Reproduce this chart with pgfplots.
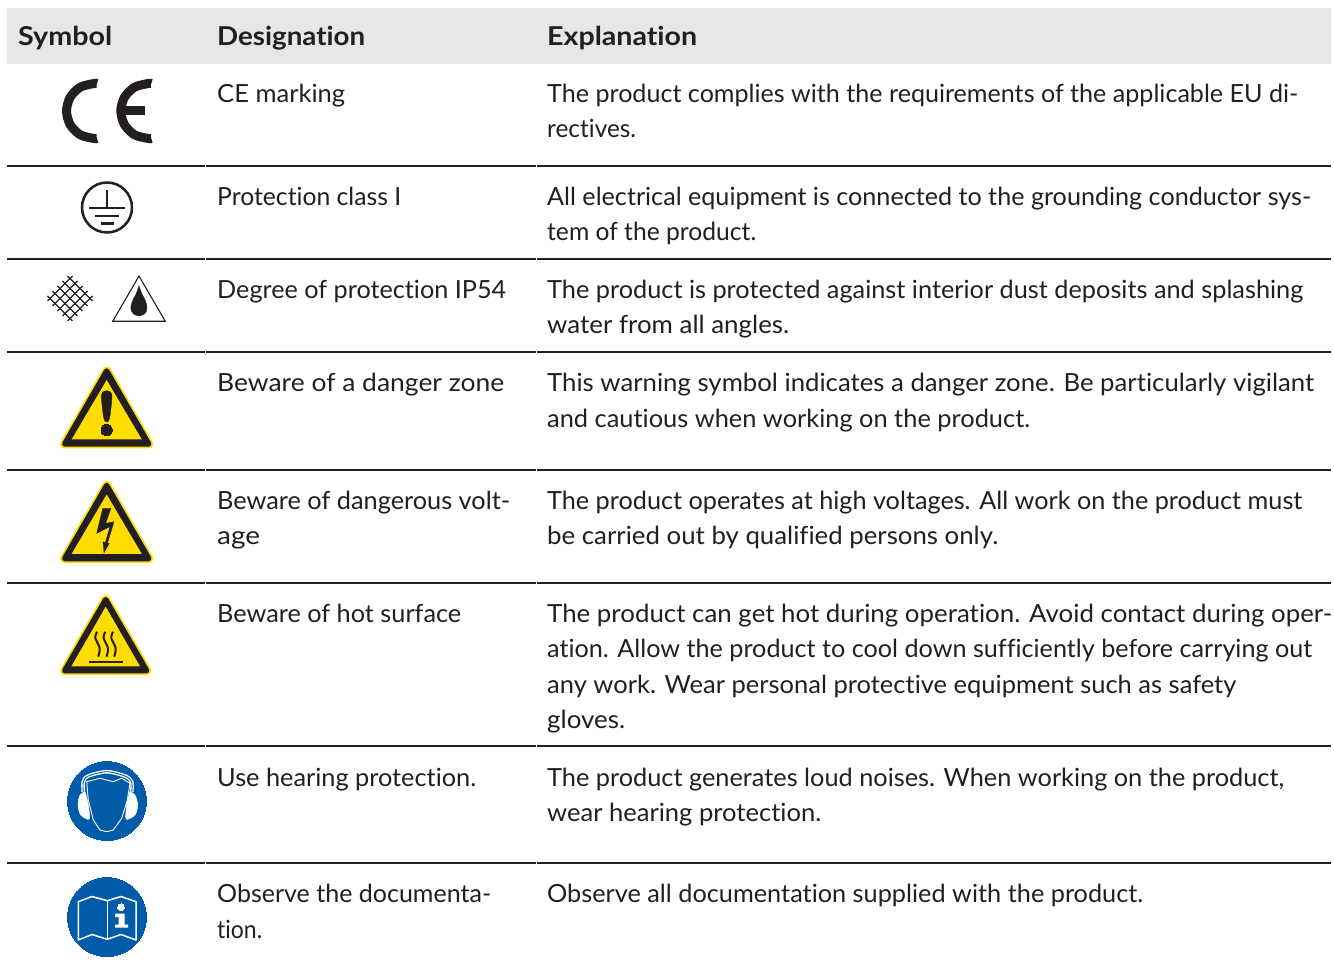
\documentclass[border=0pt]{standalone}
\usepackage{pgfplots}
\pgfplotsset{compat=1.18}
\usepackage{graphicx}
\usepackage{fontspec}
\setmainfont[Ligatures=NoCommon]{Lato}
\newfontfamily\hdfont[Ligatures=NoCommon,FakeStretch=1.08]{Lato Bold}
\definecolor{hdr}{HTML}{E6E7E8}
\definecolor{ink}{HTML}{231F20}
\definecolor{wy}{HTML}{FFDD00}
\definecolor{mb}{HTML}{005CA9}
\newcommand{\T}[4]{\node[anchor=base west,inner sep=0pt,font=\fontsize{25}{28}\selectfont,text=ink] at (axis cs:#1,#2) {\pgfmathsetmacro\w{#3-#1}\resizebox{\w pt}{\height}{#4}};}
\newcommand{\Hd}[3]{\node[anchor=base west,inner sep=0pt,font=\fontsize{26}{28}\hdfont,text=ink] at (axis cs:#1,46) {\pgfmathsetmacro\w{#2-#1}\resizebox{\w pt}{\height}{#3}};}
\begin{document}
\begin{tikzpicture}[x=1pt,y=1pt]
\begin{axis}[at={(0,0)},anchor=south west,width=1334pt,height=973pt,scale only axis,
  xmin=0,xmax=1334,ymin=0,ymax=973,y dir=reverse,axis lines=none,clip=true,clip mode=individual]
% page
\addplot[fill=white,draw=none] coordinates {(0,0)(1334,0)(1334,973)(0,973)} --cycle;
% header band
\addplot[fill=hdr,draw=none] coordinates {(7,8)(1331,8)(1331,64)(7,64)} --cycle;
% rules
\pgfplotsinvokeforeach{166,259,352,470,583,746,863}{
\addplot[ink,line width=1.4pt] coordinates {(7,#1)(204.7,#1)};
\addplot[ink,line width=1.4pt] coordinates {(205.6,#1)(535.7,#1)};
\addplot[ink,line width=1.4pt] coordinates {(536.6,#1)(1331,#1)};
}
% CE
\addplot[ink,line width=9pt,smooth] coordinates {(97,83.5)(94,83.5)(80.25,87.2)(70.2,97.25)(66.5,111)(70.2,124.75)(80.25,134.8)(94,138.5)(97,138.5)};
\addplot[ink,line width=9pt,smooth] coordinates {(151.3,83.5)(148.3,83.5)(134.55,87.2)(124.5,97.25)(120.8,111)(124.5,124.75)(134.55,134.8)(148.3,138.5)(151.3,138.5)};
\addplot[ink,line width=9pt] coordinates {(121,110.5)(144.5,110.5)};
% earth
\addplot[only marks,mark=*,mark size=25pt,mark options={fill=white,draw=ink,line width=2.5pt}] coordinates {(107,207.5)};
\addplot[ink,line width=2.2pt] coordinates {(107,190)(107,208)};
\addplot[ink,line width=2.2pt] coordinates {(89,208)(125,208)};
\addplot[ink,line width=2.2pt] coordinates {(95,216)(119,216)};
\addplot[ink,line width=2.2pt] coordinates {(100.7,223.5)(114,223.5)};
% mesh
\addplot[ink,line width=1.1pt] coordinates {(47.5,296)(72.5,321)};
\addplot[ink,line width=1.1pt] coordinates {(52.5,291)(77.5,316)};
\addplot[ink,line width=1.1pt] coordinates {(57.5,286)(82.5,311)};
\addplot[ink,line width=1.1pt] coordinates {(62.5,281)(87.5,306)};
\addplot[ink,line width=1.1pt] coordinates {(67.5,276)(92.5,301)};
\addplot[ink,line width=1.1pt] coordinates {(47.5,301)(72.5,276)};
\addplot[ink,line width=1.1pt] coordinates {(52.5,306)(77.5,281)};
\addplot[ink,line width=1.1pt] coordinates {(57.5,311)(82.5,286)};
\addplot[ink,line width=1.1pt] coordinates {(62.5,316)(87.5,291)};
\addplot[ink,line width=1.1pt] coordinates {(67.5,321)(92.5,296)};
% triangle + drop
\addplot[ink,line width=1.1pt,fill=white,line join=miter] coordinates {(139,276)(165.3,321.3)(112.7,321.3)} --cycle;
\addplot[ink,fill=ink,smooth] coordinates {(139,285.7)(136.5,293)(132.5,301)(130.8,308)(133,313.5)(139,316)(145,313.5)(147,308)(145.5,301)(141.5,293)(139,285.7)};
% warning triangle 1
\addplot[wy,fill=wy,line width=9pt,line join=round] coordinates {(106.7,371)(148.7,444)(64.7,444)} --cycle;
\addplot[ink,fill=ink,line width=5.5pt,line join=round] coordinates {(106.7,371)(148.7,444)(64.7,444)} --cycle;
\addplot[wy,fill=wy,draw=none] coordinates {(106.7,380)(141.7,439.3)(71.7,439.3)} --cycle;
% warning triangle 2
\addplot[wy,fill=wy,line width=9pt,line join=round] coordinates {(106.7,485.5)(148.7,558.5)(64.7,558.5)} --cycle;
\addplot[ink,fill=ink,line width=5.5pt,line join=round] coordinates {(106.7,485.5)(148.7,558.5)(64.7,558.5)} --cycle;
\addplot[wy,fill=wy,draw=none] coordinates {(106.7,494.5)(141.7,553.8)(71.7,553.8)} --cycle;
% warning triangle 3
\addplot[wy,fill=wy,line width=9pt,line join=round] coordinates {(105.7,599.7)(146.7,670.7)(64.7,670.7)} --cycle;
\addplot[ink,fill=ink,line width=5.5pt,line join=round] coordinates {(105.7,599.7)(146.7,670.7)(64.7,670.7)} --cycle;
\addplot[wy,fill=wy,draw=none] coordinates {(105.7,606.7)(140,666.3)(71.4,666.3)} --cycle;
% exclamation
\addplot[ink,fill=ink,smooth] coordinates {(106.7,390.7)(110.5,392)(112,396)(111.5,403)(110,416)(108.5,421)(106.7,422)(104.9,421)(103.4,416)(101.9,403)(101.4,396)(102.9,392)(106.7,390.7)};
\addplot[only marks,mark=*,mark size=5.7pt,mark options={fill=ink,draw=ink,line width=0pt}] coordinates {(106.7,430)};
% lightning
\addplot[ink,fill=ink,line width=.3pt] coordinates {(102.7,508.3)(111,508.3)(105.7,523.3)(114,521.7)(107.3,544)(109.3,543.3)(104,552.7)(103,541.7)(105.3,542.7)(110,526.7)(96.7,533.3)} --cycle;
% heat
\addplot[ink,line width=2pt,smooth] coordinates {(97,631.7)(95.3,638)(99.7,648)(98.3,656.7)};
\addplot[ink,line width=2pt,smooth] coordinates {(105.3,631.7)(103.6,638)(108,648)(106.6,656.7)};
\addplot[ink,line width=2pt,smooth] coordinates {(113,631.7)(111.3,638)(115.7,648)(114.3,656.7)};
\addplot[ink,line width=1.8pt] coordinates {(89.3,661.7)(122.7,661.7)};
% mandatory discs
\addplot[only marks,mark=*,mark size=39.5pt,mark options={fill=mb,draw=mb,line width=0pt}] coordinates {(107,801)};
\addplot[only marks,mark=*,mark size=39.5pt,mark options={fill=mb,draw=mb,line width=0pt}] coordinates {(107,917)};
% ear defenders
\addplot[white,fill=white,smooth] coordinates {(85,791.7)(80,795)(78,805)(80.7,815)(89.3,819)(88,803)(85,791.7)};
\addplot[white,fill=white,smooth] coordinates {(130,791.7)(135,795)(137.7,805)(135,815)(126,819)(127,803)(130,791.7)};
\addplot[white,line width=3.6pt,smooth] coordinates {(83.3,791.7)(83.3,781.7)(88.3,776)(106.7,771.7)(125,776)(131.7,781.7)(131.7,791.7)};
\addplot[mb,line width=.9pt,smooth] coordinates {(83.3,791.7)(83.3,781.7)(88.3,776)(106.7,771.7)(125,776)(131.7,781.7)(131.7,791.7)};
\addplot[fill=mb,draw=white,line width=.9pt] coordinates {(86.7,781.7)(100,778.3)(113.3,781.7)(121.7,778.3)(130,783.3)(127.3,800)(121.7,818.3)(113.3,830)(106.7,831.7)(100,830)(93.3,820)(88.3,800)} --cycle;
% book
\addplot[white,line width=1.5pt,line join=round] coordinates {(78.3,901.7)(92,896.5)(107.3,900.7)(121,896.5)(136,901.7)(136,940)(121,934.5)(107.3,939.3)(92,934.5)(78.3,940)} --cycle;
\addplot[white,line width=1.2pt] coordinates {(107.3,900.7)(107.3,939.3)};
\addplot[only marks,mark=*,mark size=3.5pt,mark options={fill=white,draw=white,line width=0pt}] coordinates {(121,907.3)};
\addplot[white,fill=white,draw=none] coordinates {(115,913.5)(124.5,913.5)(124.5,924.5)(128,924.5)(128,927.5)(115,927.5)(115,924.5)(118.5,924.5)(118.5,917)(115,917)} --cycle;
% header
\Hd{18}{112}{Symbol}\Hd{217}{365}{Designation}\Hd{547}{697}{Explanation}
% designation
\T{217}{103}{345}{CE marking}
\T{217}{206}{401}{Protection class I}
\T{217}{299}{506}{Degree of protection IP54}
\T{217}{392}{504}{Beware of a danger zone}
\T{217}{510}{510}{Beware of dangerous volt-}
\T{217}{544}{260}{age}
\T{217}{622}{461}{Beware of hot surface}
\T{217}{786}{476}{Use hearing protection.}
\T{217}{902}{491}{Observe the documenta-}
\T{217}{938}{262}{tion.}
% explanation
\T{547}{103}{1298}{The product complies with the requirements of the applicable EU di-}
\T{547}{138}{636}{rectives.}
\T{547}{206}{1311}{All electrical equipment is connected to the grounding conductor sys-}
\T{547}{241}{756}{tem of the product.}
\T{547}{299}{1303}{The product is protected against interior dust deposits and splashing}
\T{547}{334}{789}{water from all angles.}
\T{547}{392}{1314}{This warning symbol indicates a danger zone. Be particularly vigilant}
\T{547}{428}{1030}{and cautious when working on the product.}
\T{547}{510}{1302}{The product operates at high voltages. All work on the product must}
\T{547}{544}{998}{be carried out by qualified persons only.}
\T{547}{622}{1332}{The product can get hot during operation. Avoid contact during oper-}
\T{547}{657}{1312}{ation. Allow the product to cool down sufficiently before carrying out}
\T{547}{693}{1236}{any work. Wear personal protective equipment such as safety}
\T{547}{728}{625}{gloves.}
\T{547}{786}{1284}{The product generates loud noises. When working on the product,}
\T{547}{821}{821}{wear hearing protection.}
\T{547}{902}{1143}{Observe all documentation supplied with the product.}
\end{axis}
\end{tikzpicture}
\end{document}
